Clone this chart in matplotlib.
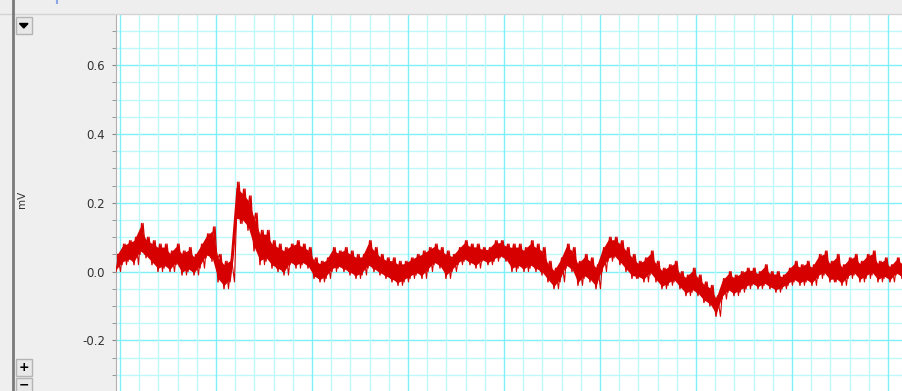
import numpy as np
import matplotlib
matplotlib.use("Agg")
import matplotlib.pyplot as plt
from matplotlib.patches import Rectangle, Polygon

# trace envelope, one column every 0.0625 s (low / high value in mV)
t0 = -0.042
dt = 0.0625
trace_lo = [0.00, 0.02, 0.03, 0.02, 0.05, 0.04, 0.02, 0.00, 0.01, 0.00,
            0.02, -0.01, 0.00, -0.01, 0.01, 0.04, 0.03, -0.03, -0.05, -0.03,
            0.14, 0.14, 0.12, 0.06, 0.02, 0.03, 0.01, 0.00, -0.01, 0.02,
            0.01, 0.02, 0.01, -0.02, -0.03, -0.02, 0.00, 0.01, 0.00, -0.01,
            -0.02, -0.01, 0.01, 0.00, -0.01, -0.02, -0.03, -0.04, -0.03, -0.02,
            -0.01, -0.02, 0.00, 0.02, 0.01, -0.02, 0.00, 0.02, 0.03, 0.02,
            0.01, 0.03, 0.02, 0.03, 0.04, 0.03, 0.00, 0.01, 0.00, 0.01,
            0.00, -0.01, -0.03, -0.05, -0.03, 0.01, 0.00, -0.04, -0.02, -0.03,
            -0.05, 0.00, 0.03, 0.04, 0.02, 0.00, -0.02, -0.02, -0.03, -0.01,
            -0.03, -0.05, -0.04, -0.03, -0.05, -0.07, -0.06, -0.07, -0.09, -0.10,
            -0.13, -0.08, -0.06, -0.07, -0.06, -0.05, -0.04, -0.05, -0.04, -0.05,
            -0.06, -0.05, -0.04, -0.03, -0.04, -0.03, -0.04, -0.02, -0.01, -0.03,
            -0.03, -0.04, -0.02, -0.01, -0.03, -0.02, -0.01, -0.03, -0.02, -0.03,
            -0.01, -0.02]
trace_hi = [0.05, 0.08, 0.09, 0.10, 0.14, 0.10, 0.09, 0.08, 0.08, 0.06,
            0.08, 0.06, 0.07, 0.05, 0.08, 0.11, 0.13, 0.05, 0.03, 0.04,
            0.26, 0.24, 0.22, 0.17, 0.12, 0.12, 0.09, 0.08, 0.07, 0.08,
            0.09, 0.08, 0.07, 0.04, 0.03, 0.04, 0.07, 0.06, 0.07, 0.06,
            0.05, 0.05, 0.09, 0.07, 0.05, 0.04, 0.04, 0.03, 0.03, 0.04,
            0.05, 0.06, 0.07, 0.08, 0.07, 0.06, 0.05, 0.07, 0.09, 0.08,
            0.08, 0.07, 0.07, 0.09, 0.09, 0.08, 0.08, 0.08, 0.07, 0.09,
            0.08, 0.07, 0.03, 0.01, 0.04, 0.08, 0.07, 0.03, 0.05, 0.04,
            0.02, 0.07, 0.10, 0.10, 0.09, 0.07, 0.05, 0.03, 0.04, 0.06,
            0.03, 0.01, 0.02, 0.03, 0.00, -0.01, 0.01, -0.01, -0.03, -0.04,
            -0.07, -0.02, 0.00, -0.01, 0.00, 0.01, 0.01, 0.00, 0.02, 0.00,
            0.00, -0.01, 0.01, 0.03, 0.02, 0.03, 0.02, 0.05, 0.06, 0.03,
            0.05, 0.02, 0.04, 0.05, 0.03, 0.05, 0.06, 0.03, 0.04, 0.02,
            0.04, 0.03]
ytick_vals = [-0.2, 0.0, 0.2, 0.4, 0.6]
y_unit = "mV"

W, H = 902, 391
red = "#d60000"
fig = plt.figure(figsize=(W / 100, H / 100), dpi=100)
fig.patch.set_facecolor("#efefef")

# plot area
ax = fig.add_axes([116 / W, 0, (W - 116) / W, (H - 14) / H])
ax.set_facecolor("white")
ax.set_xlim(-0.042, 8.146)
ax.set_ylim(-0.347, 0.7485)

for v in np.arange(-0.35, 0.75, 0.05):
    major = abs(v / 0.2 - round(v / 0.2)) < 1e-6
    ax.axhline(v, color="#7ff0f7" if major else "#bff8fb", lw=1.0, zorder=0)
for v in np.arange(0, 8.2, 0.2):
    major = abs(v - round(v)) < 1e-6
    ax.axvline(v, color="#7ff0f7" if major else "#bff8fb", lw=1.0, zorder=0)

lo = np.array(trace_lo)
hi = np.array(trace_hi)
t = t0 + dt * np.arange(len(lo))
ax.fill_between(t, lo + 0.12 * (hi - lo), hi - 0.12 * (hi - lo),
                color=red, lw=0, zorder=2)
xs = np.empty(2 * len(t))
ys = np.empty(2 * len(t))
xs[0::2] = t
xs[1::2] = t + dt / 2
ys[0::2] = lo
ys[1::2] = hi
ax.plot(xs, ys, color=red, lw=1.0, zorder=3)
ys2 = np.empty(2 * len(t))
ys2[0::2] = hi
ys2[1::2] = lo
ax.plot(xs + dt / 4, ys2, color=red, lw=0.8, zorder=3)

ax.set_xticks([])
ax.set_yticks(ytick_vals)
ax.set_yticklabels([f"{v:.1f}" for v in ytick_vals], fontsize=8.5, color="#333333")
ax.set_yticks(np.arange(-0.3, 0.75, 0.05), minor=True)
ax.tick_params(axis="y", which="both", direction="out", length=3,
               color="#888888", pad=5)
for s in ["top", "right", "bottom"]:
    ax.spines[s].set_visible(False)
ax.spines["left"].set_color("#b0b0b0")

# left panel / frame decorations (figure pixel coords)
over = fig.add_axes([0, 0, 1, 1], zorder=5)
over.set_xlim(0, W)
over.set_ylim(H, 0)
over.axis("off")
over.patch.set_alpha(0)
over.add_patch(Rectangle((0, 0), W, 13, color="#eeeeee"))
over.plot([0, W], [13.5, 13.5], color="#d4d4d4", lw=1)
over.plot([12.5, 12.5], [0, H], color="#7a7a7a", lw=2)
over.plot([57, 57], [1, 3], color="#8aa8e8", lw=1.5)
for y0, y1 in [(17, 34), (359, 376), (378, 393)]:
    over.add_patch(Rectangle((15.5, y0), 16.5, y1 - y0, facecolor="#e8e8e8",
                             edgecolor="#b4b4b4", lw=1))
over.add_patch(Polygon([(19.5, 23.5), (28, 23.5), (23.75, 28)], color="black"))
over.text(23.8, 367.5, "+", ha="center", va="center", fontsize=9,
          fontweight="bold", color="black")
over.text(23.8, 385, "\u2212", ha="center", va="center", fontsize=9,
          fontweight="bold", color="black")
over.text(22, 199, y_unit, rotation=90, ha="center", va="center",
          fontsize=7.5, color="#333333")

fig.savefig("out.png", dpi=100, facecolor=fig.get_facecolor())
